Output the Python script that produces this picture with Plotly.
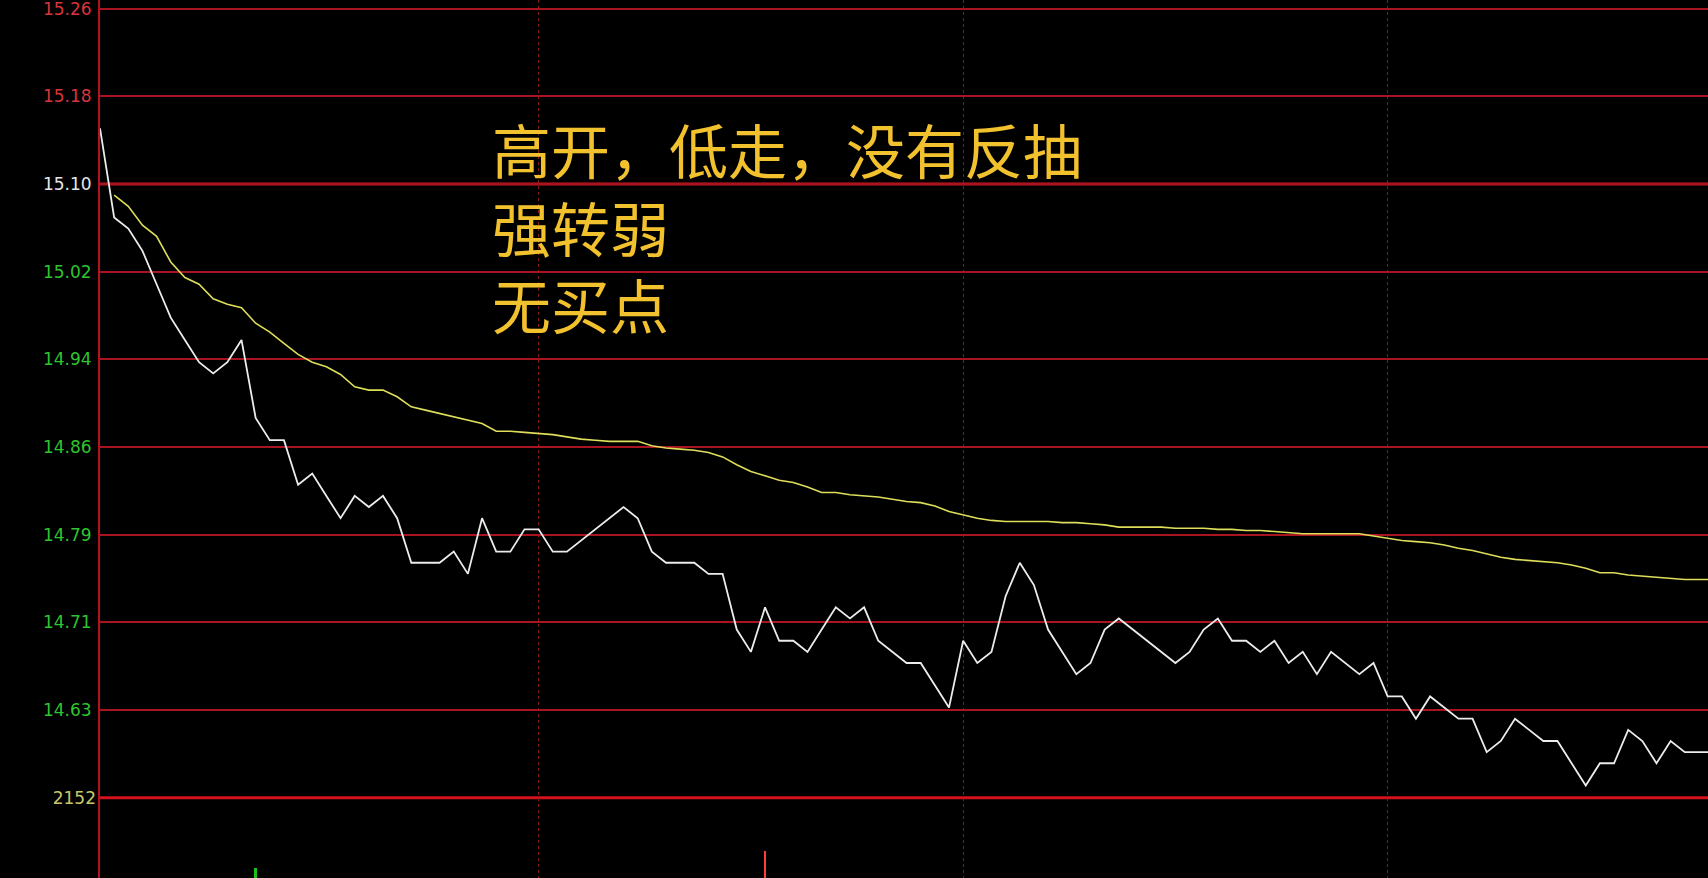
import plotly.graph_objects as go

# ---------------- data ----------------
minutes = list(range(115))
price = [15.15, 15.07, 15.06, 15.04, 15.01, 14.98, 14.96, 14.94, 14.93, 14.94,
         14.96, 14.89, 14.87, 14.87, 14.83, 14.84, 14.82, 14.80, 14.82, 14.81,
         14.82, 14.80, 14.76, 14.76, 14.76, 14.77, 14.75, 14.80, 14.77, 14.77,
         14.79, 14.79, 14.77, 14.77, 14.78, 14.79, 14.80, 14.81, 14.80, 14.77,
         14.76, 14.76, 14.76, 14.75, 14.75, 14.70, 14.68, 14.72, 14.69, 14.69,
         14.68, 14.70, 14.72, 14.71, 14.72, 14.69, 14.68, 14.67, 14.67, 14.65,
         14.63, 14.69, 14.67, 14.68, 14.73, 14.76, 14.74, 14.70, 14.68, 14.66,
         14.67, 14.70, 14.71, 14.70, 14.69, 14.68, 14.67, 14.68, 14.70, 14.71,
         14.69, 14.69, 14.68, 14.69, 14.67, 14.68, 14.66, 14.68, 14.67, 14.66,
         14.67, 14.64, 14.64, 14.62, 14.64, 14.63, 14.62, 14.62, 14.59, 14.60,
         14.62, 14.61, 14.60, 14.60, 14.58, 14.56, 14.58, 14.58, 14.61, 14.60,
         14.58, 14.60, 14.59, 14.59, 14.59]
avg_price = [None, 15.090, 15.080, 15.063, 15.053, 15.030, 15.016, 15.010, 14.997, 14.992,
             14.989, 14.975, 14.967, 14.957, 14.947, 14.940, 14.936, 14.929, 14.918, 14.915,
             14.915, 14.909, 14.900, 14.897, 14.894, 14.891, 14.888, 14.885, 14.878, 14.878,
             14.877, 14.876, 14.875, 14.873, 14.871, 14.870, 14.869, 14.869, 14.869, 14.865,
             14.863, 14.862, 14.861, 14.859, 14.855, 14.848, 14.842, 14.838, 14.834, 14.832,
             14.828, 14.823, 14.823, 14.821, 14.820, 14.819, 14.817, 14.815, 14.814, 14.811,
             14.806, 14.803, 14.800, 14.798, 14.797, 14.797, 14.797, 14.797, 14.796, 14.796,
             14.795, 14.794, 14.792, 14.792, 14.792, 14.792, 14.791, 14.791, 14.791, 14.790,
             14.790, 14.789, 14.789, 14.788, 14.787, 14.786, 14.786, 14.786, 14.786, 14.786,
             14.784, 14.782, 14.780, 14.779, 14.778, 14.776, 14.773, 14.771, 14.768, 14.765,
             14.763, 14.762, 14.761, 14.760, 14.758, 14.755, 14.751, 14.751, 14.749, 14.748,
             14.747, 14.746, 14.745, 14.745, 14.745]

prev_close = 15.10
price_step = 0.0787
price_tick_labels = ["15.26", "15.18", "15.10", "15.02", "14.94", "14.86", "14.79", "14.71", "14.63"]
price_tick_offsets = [2, 1, 0, -1, -2, -3, -4, -5, -6]
price_tick_colors = ["#d9343c", "#d9343c", "#e6e6e6", "#2ec42e", "#2ec42e", "#2ec42e",
                     "#2ec42e", "#2ec42e", "#2ec42e"]

vol_tick_values = [2152, 1076]
vol_tick_labels = ["2152", "1076"]
vol_minutes = [11, 47]
vol_values = [1290, 1500]
vol_colors = ["#19c219", "#ff3b3b"]

half_hour_marks = [31, 61, 91]

note_lines = ["高开，低走，没有反抽", "强转弱", "无买点"]

# ---------------- geometry helpers ----------------
px_per_step = 87.67
H = 878
W = 1708
left_margin = 100
px_per_min = 14.15
top_steps = 184 / px_per_step
bottom_steps = (H - 184) / px_per_step
y_range = [prev_close - bottom_steps * price_step, prev_close + top_steps * price_step]
vol_per_step = vol_tick_values[0] - vol_tick_values[1]
vol_at_prev = vol_tick_values[0] + 7 * vol_per_step
y2_range = [vol_at_prev - bottom_steps * vol_per_step, vol_at_prev + top_steps * vol_per_step]
x_range = [0, (W - left_margin) / px_per_min]

price_tickvals = [prev_close + o * price_step for o in price_tick_offsets]
price_ticktext = [f'<span style="color:{c}">{t}</span>' for t, c in zip(price_tick_labels, price_tick_colors)]

fig = go.Figure()

fig.add_trace(go.Bar(x=vol_minutes, y=vol_values, marker_color=vol_colors, marker_line_width=0,
                     width=0.14, yaxis="y2", base=0, showlegend=False, hoverinfo="skip"))
fig.add_trace(go.Scatter(x=minutes, y=avg_price, mode="lines",
                         line=dict(color="#dede5a", width=1.6), showlegend=False))
fig.add_trace(go.Scatter(x=minutes, y=price, mode="lines",
                         line=dict(color="#ececec", width=1.8), showlegend=False))

fig.add_shape(type="line", xref="paper", x0=0, x1=1, yref="y", y0=prev_close, y1=prev_close,
              line=dict(color="#d3121c", width=3), layer="below")
fig.add_shape(type="line", xref="paper", x0=0, x1=1, yref="y2", y0=vol_tick_values[0], y1=vol_tick_values[0],
              line=dict(color="#d3121c", width=3), layer="below")

note_y = [0.8303, 0.7420, 0.6538]
for txt, yy in zip(note_lines, note_y):
    fig.add_annotation(text=txt, xref="paper", yref="paper", x=0.2425, y=yy,
                       xanchor="left", yanchor="middle", align="left", showarrow=False,
                       font=dict(family="Noto Sans CJK SC", size=59, color="#f2c12e"))

fig.update_layout(
    width=W, height=H, autosize=False,
    paper_bgcolor="#000000", plot_bgcolor="#000000",
    margin=dict(l=left_margin, r=0, t=0, b=0),
    showlegend=False,
    bargap=0,
    xaxis=dict(range=x_range, showticklabels=False, ticks="", zeroline=False,
               tickvals=half_hour_marks, showgrid=True, gridcolor="#8a1a1a", gridwidth=1,
               griddash="dot", showline=False),
    yaxis=dict(range=y_range, tickvals=price_tickvals, ticktext=price_ticktext,
               showgrid=True, gridcolor="#a8141f", gridwidth=2, zeroline=False,
               showline=True, linecolor="#b3121f", linewidth=2, ticks="",
               ticklabelstandoff=3, ticklabeloverflow="allow",
               tickfont=dict(family="DejaVu Sans", size=17)),
    yaxis2=dict(range=y2_range, overlaying="y", side="left", tickvals=vol_tick_values,
                ticktext=[f'<span style="color:#c9c96a">{t}</span>' for t in vol_tick_labels],
                showgrid=False, zeroline=False, showline=False, ticks="",
                ticklabelstandoff=3, ticklabeloverflow="allow",
                tickfont=dict(family="DejaVu Sans", size=17)),
)

fig.write_html("out.html", config={"displayModeBar": False},
               post_script="document.body.style.margin='0';document.body.style.background='#000';"
                           "document.body.style.overflow='hidden';")
